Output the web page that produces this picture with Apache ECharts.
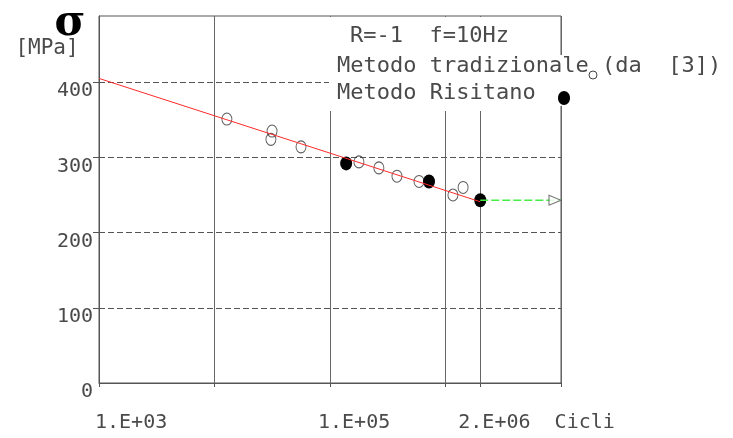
<!DOCTYPE html>
<html>
<head>
<meta charset="utf-8">
<script src="https://cdn.jsdelivr.net/npm/echarts@6/dist/echarts.min.js"></script>
<style>
  html, body { margin: 0; padding: 0; background: #fff; }
  #main { width: 733px; height: 438px; }
</style>
</head>
<body>
<div id="main"></div>
<script>
// dati (N cicli, sigma MPa)
var tradN = [12800, 31500, 30800, 56100, 178000, 265000, 380000, 590000, 1160000, 1420000];
var tradS = [351, 335, 324, 314, 294, 286, 275, 268, 250, 260];
var risN = [138000, 720000, 2000000];
var risS = [292, 268, 243];
var fitN = [1000, 2000000];
var fitS = [405, 241];
var limN = [2000000, 10000000];
var limS = [243, 243];
var xTicks = [1e3, 1e4, 1e5, 1e6, 2e6, 1e7];
var xLabelVals = [1e3, 1e5, 2e6];
var xLabels = ['1.E+03', '1.E+05', '2.E+06  Cicli'];
var yTicks = [100, 200, 300, 400];

var MONO = "'DejaVu Sans Mono', 'Liberation Mono', monospace";
var INK = '#4a4a4a';

function pairs(a, b) {
    return a.map(function (v, i) { return [v, b[i]]; });
}

var chart = echarts.init(document.getElementById('main'), null, {renderer: 'canvas'});

var option = {
    animation: false,
    backgroundColor: '#fff',
    grid: {
        left: 99, top: 16, right: 172, bottom: 55,
        show: true, borderColor: '#555', borderWidth: 1,
        containLabel: false, outerBoundsMode: 'none'
    },
    xAxis: {
        type: 'log', logBase: 10, min: 1000, max: 10000000,
        axisLine: {lineStyle: {color: '#555'}},
        axisTick: {show: true, inside: false, length: 4, customValues: xTicks, lineStyle: {color: '#555'}},
        minorTick: {show: false},
        splitLine: {show: true, lineStyle: {color: '#666', width: 1}},
        axisLabel: {
            customValues: xLabelVals,
            margin: 30,
            align: 'left',
            fontFamily: MONO, fontSize: 20, color: INK,
            formatter: function (v) {
                for (var i = 0; i < xLabelVals.length; i++) {
                    if (Math.abs(Math.log10(v) - Math.log10(xLabelVals[i])) < 1e-6) {
                        return '{l' + i + '|' + xLabels[i] + '}';
                    }
                }
                return '';
            },
            rich: {
                l0: {fontFamily: MONO, fontSize: 20, color: INK, padding: [0, 0, 0, -4]},
                l1: {fontFamily: MONO, fontSize: 20, color: INK, padding: [0, 0, 0, -12]},
                l2: {fontFamily: MONO, fontSize: 20, color: INK, padding: [0, 0, 0, -22]}
            }
        }
    },
    yAxis: {
        type: 'value', min: 0, max: 488, interval: 100,
        axisLine: {show: true, lineStyle: {color: '#555'}},
        axisTick: {show: true, inside: false, length: 6, customValues: yTicks, lineStyle: {color: '#555'}},
        splitLine: {show: true, lineStyle: {color: '#555', type: [6, 3], width: 1}},
        axisLabel: {
            showMaxLabel: false,
            margin: 6,
            fontFamily: MONO, fontSize: 20, color: INK,
            verticalAlign: 'top', lineHeight: 18
        }
    },
    graphic: [
        // riquadro legenda
        {type: 'rect', z: 10, shape: {x: 329, y: 17, width: 231, height: 94}, style: {fill: '#fff'}},
        {type: 'rect', z: 10, shape: {x: 556, y: 55, width: 12, height: 51}, style: {fill: '#fff'}},
        {type: 'text', z: 11, style: {x: 350, y: 36, text: 'R=-1  f=10Hz', fontFamily: MONO, fontSize: 22, fill: INK, verticalAlign: 'middle'}},
        {type: 'text', z: 11, style: {x: 337, y: 66, text: 'Metodo tradizionale', fontFamily: MONO, fontSize: 22, fill: INK, verticalAlign: 'middle'}},
        {type: 'circle', z: 11, shape: {cx: 593, cy: 75, r: 4}, style: {fill: '#fff', stroke: '#444', lineWidth: 1}},
        {type: 'text', z: 11, style: {x: 602, y: 66, text: '(da  [3])', fontFamily: MONO, fontSize: 22, fill: INK, verticalAlign: 'middle'}},
        {type: 'text', z: 11, style: {x: 337, y: 93, text: 'Metodo Risitano', fontFamily: MONO, fontSize: 22, fill: INK, verticalAlign: 'middle'}},
        {type: 'ellipse', z: 11, shape: {cx: 564, cy: 98, rx: 6, ry: 7}, style: {fill: '#000'}},
        // titolo asse y
        {type: 'text', z: 11, style: {x: 70, y: 24, text: 'σ', fontFamily: "'DejaVu Serif', 'Liberation Serif'", fontWeight: 'bold', fontSize: 42, fill: '#000', align: 'center', verticalAlign: 'middle'}},
        {type: 'text', z: 11, style: {x: 47, y: 49, text: '[MPa]', fontFamily: MONO, fontSize: 21, fill: INK, align: 'center', verticalAlign: 'middle'}}
    ],
    series: [
        {
            name: 'Metodo tradizionale', type: 'scatter', z: 2,
            data: pairs(tradN, tradS),
            symbol: 'circle', symbolSize: [10, 12],
            itemStyle: {color: 'rgba(255,255,255,0)', borderColor: '#333', borderWidth: 1}
        },
        {
            name: 'Metodo Risitano', type: 'scatter', z: 2,
            data: pairs(risN, risS),
            symbol: 'circle', symbolSize: [12, 14],
            itemStyle: {color: '#000', opacity: 1}
        },
        {
            name: 'fit', type: 'line', z: 3,
            data: pairs(fitN, fitS),
            symbol: 'none',
            lineStyle: {color: '#ff2a2a', width: 1}
        },
        {
            name: 'limite', type: 'line', z: 3,
            data: pairs(limN, limS),
            symbol: 'none',
            lineStyle: {color: '#44ee44', width: 1.5, type: [8, 3]}
        },
        {
            name: 'freccia', type: 'scatter', z: 4,
            data: [[limN[1], limS[1]]],
            symbol: 'triangle', symbolSize: [10, 12], symbolRotate: -90, symbolOffset: [-6, 0],
            itemStyle: {color: '#fff', borderColor: '#555', borderWidth: 1}
        }
    ]
};
chart.setOption(option);
</script>
</body>
</html>
